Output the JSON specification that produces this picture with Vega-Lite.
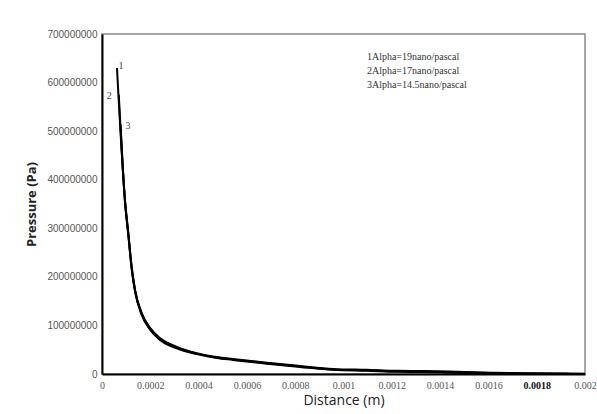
{
  "$schema": "https://vega.github.io/schema/vega-lite/v6.json",
  "width": 483,
  "height": 340,
  "autosize": "none",
  "padding": {"left": 102, "top": 34, "right": 12, "bottom": 40},
  "background": "white",
  "config": {"view": {"stroke": "#8a8a8a", "strokeWidth": 1.5}},
  "datasets": {
    "curves": [
      {"series": "1", "d": 0.0000621, "p": 630000000},
      {"series": "1", "d": 0.0000952, "p": 358000000},
      {"series": "1", "d": 0.000109, "p": 290000000},
      {"series": "1", "d": 0.000123, "p": 220000000},
      {"series": "1", "d": 0.000137, "p": 173000000},
      {"series": "1", "d": 0.000164, "p": 126000000},
      {"series": "1", "d": 0.000199, "p": 95000000},
      {"series": "1", "d": 0.00024, "p": 74000000},
      {"series": "1", "d": 0.000309, "p": 56000000},
      {"series": "1", "d": 0.000392, "p": 43000000},
      {"series": "1", "d": 0.000475, "p": 35000000},
      {"series": "1", "d": 0.000542, "p": 31000000},
      {"series": "1", "d": 0.000683, "p": 23000000},
      {"series": "1", "d": 0.00082, "p": 16500000},
      {"series": "1", "d": 0.000957, "p": 10500000},
      {"series": "1", "d": 0.001097, "p": 8500000},
      {"series": "1", "d": 0.001222, "p": 6500000},
      {"series": "1", "d": 0.00133, "p": 6000000},
      {"series": "1", "d": 0.00147, "p": 4500000},
      {"series": "1", "d": 0.00161, "p": 2800000},
      {"series": "1", "d": 0.00174, "p": 1500000},
      {"series": "1", "d": 0.00193, "p": 800000},
      {"series": "1", "d": 0.002, "p": 500000},
      {"series": "2", "d": 0.0000695, "p": 575000000},
      {"series": "2", "d": 0.0000952, "p": 356000000},
      {"series": "2", "d": 0.000109, "p": 288000000},
      {"series": "2", "d": 0.000123, "p": 218000000},
      {"series": "2", "d": 0.000137, "p": 171000000},
      {"series": "2", "d": 0.000164, "p": 124000000},
      {"series": "2", "d": 0.000199, "p": 93000000},
      {"series": "2", "d": 0.00024, "p": 72000000},
      {"series": "2", "d": 0.000309, "p": 54500000},
      {"series": "2", "d": 0.000392, "p": 42000000},
      {"series": "2", "d": 0.000475, "p": 34000000},
      {"series": "2", "d": 0.000542, "p": 30000000},
      {"series": "2", "d": 0.000683, "p": 22000000},
      {"series": "2", "d": 0.00082, "p": 15500000},
      {"series": "2", "d": 0.000957, "p": 9500000},
      {"series": "2", "d": 0.001097, "p": 7500000},
      {"series": "2", "d": 0.001222, "p": 5500000},
      {"series": "2", "d": 0.00133, "p": 5000000},
      {"series": "2", "d": 0.00147, "p": 3500000},
      {"series": "2", "d": 0.00161, "p": 2000000},
      {"series": "2", "d": 0.00174, "p": 1000000},
      {"series": "2", "d": 0.00193, "p": 400000},
      {"series": "2", "d": 0.002, "p": 200000},
      {"series": "3", "d": 0.000077, "p": 513000000},
      {"series": "3", "d": 0.0000952, "p": 354000000},
      {"series": "3", "d": 0.000109, "p": 286000000},
      {"series": "3", "d": 0.000123, "p": 216000000},
      {"series": "3", "d": 0.000137, "p": 169000000},
      {"series": "3", "d": 0.000164, "p": 122000000},
      {"series": "3", "d": 0.000199, "p": 91000000},
      {"series": "3", "d": 0.00024, "p": 70000000},
      {"series": "3", "d": 0.000309, "p": 53000000},
      {"series": "3", "d": 0.000392, "p": 41000000},
      {"series": "3", "d": 0.000475, "p": 33000000},
      {"series": "3", "d": 0.000542, "p": 29000000},
      {"series": "3", "d": 0.000683, "p": 21000000},
      {"series": "3", "d": 0.00082, "p": 14500000},
      {"series": "3", "d": 0.000957, "p": 8500000},
      {"series": "3", "d": 0.001097, "p": 6500000},
      {"series": "3", "d": 0.001222, "p": 4500000},
      {"series": "3", "d": 0.00133, "p": 4000000},
      {"series": "3", "d": 0.00147, "p": 2500000},
      {"series": "3", "d": 0.00161, "p": 1200000},
      {"series": "3", "d": 0.00174, "p": 500000},
      {"series": "3", "d": 0.00193, "p": 200000},
      {"series": "3", "d": 0.002, "p": 100000}
    ],
    "curveLabels": [
      {"label": "1", "d": 0.0000787, "p": 634000000},
      {"label": "2", "d": 0.000030, "p": 572000000},
      {"label": "3", "d": 0.000108, "p": 511000000}
    ],
    "legend": [
      {"text": "1Alpha=19nano/pascal", "d": 0.001097, "p": 652000000},
      {"text": "2Alpha=17nano/pascal", "d": 0.001097, "p": 623000000},
      {"text": "3Alpha=14.5nano/pascal", "d": 0.001097, "p": 594000000}
    ]
  },
  "layer": [
    {
      "data": {"name": "curves"},
      "mark": {"type": "line", "color": "black", "strokeWidth": 2, "interpolate": "monotone"},
      "encoding": {
        "x": {
          "field": "d", "type": "quantitative",
          "scale": {"domain": [0, 0.002], "nice": false},
          "axis": {
            "title": "Distance (m)",
            "values": [0, 0.0002, 0.0004, 0.0006, 0.0008, 0.001, 0.0012, 0.0014, 0.0016, 0.0018, 0.002],
            "format": "~g",
            "grid": false,
            "ticks": false,
            "domainColor": "black",
            "domainWidth": 2,
            "labelFont": "Liberation Serif",
            "labelFontSize": 10,
            "labelColor": {"condition": {"test": "abs(datum.value-0.0018)<1e-9", "value": "#111111"}, "value": "#555555"},
            "labelFontWeight": {"condition": {"test": "abs(datum.value-0.0018)<1e-9", "value": "bold"}, "value": "normal"},
            "labelPadding": 6,
            "labelFlush": false,
            "titleFont": "Open Sans",
            "titleFontSize": 14,
            "titleFontWeight": "normal",
            "titleColor": "#222222",
            "titlePadding": 3
          }
        },
        "y": {
          "field": "p", "type": "quantitative",
          "scale": {"domain": [0, 700000000], "nice": false},
          "axis": {
            "title": "Pressure (Pa)",
            "values": [0, 100000000, 200000000, 300000000, 400000000, 500000000, 600000000, 700000000],
            "format": "d",
            "grid": false,
            "ticks": false,
            "domainColor": "black",
            "domainWidth": 2,
            "labelFont": "Liberation Sans",
            "labelFontSize": 10,
            "labelColor": "#555555",
            "labelPadding": 5,
            "labelFlush": false,
            "titleFont": "Open Sans",
            "titleFontSize": 13,
            "titleFontWeight": "bold",
            "titleColor": "#222222",
            "titlePadding": 8
          }
        },
        "detail": {"field": "series"}
      }
    },
    {
      "data": {"name": "curveLabels"},
      "mark": {"type": "text", "font": "Liberation Serif", "fontSize": 10, "color": "#444444", "align": "center", "baseline": "middle"},
      "encoding": {
        "x": {"field": "d", "type": "quantitative"},
        "y": {"field": "p", "type": "quantitative"},
        "text": {"field": "label"}
      }
    },
    {
      "data": {"name": "legend"},
      "mark": {"type": "text", "font": "Liberation Serif", "fontSize": 10, "color": "#333333", "align": "left", "baseline": "middle"},
      "encoding": {
        "x": {"field": "d", "type": "quantitative"},
        "y": {"field": "p", "type": "quantitative"},
        "text": {"field": "text"}
      }
    }
  ]
}
